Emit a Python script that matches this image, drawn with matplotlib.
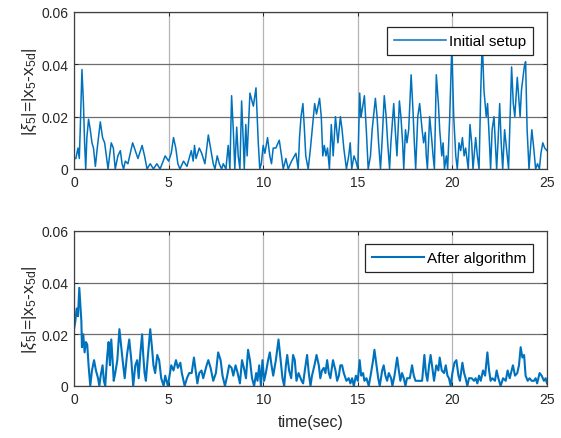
import matplotlib
matplotlib.use("Agg")
import matplotlib.pyplot as plt

# values (time in sec, error)
t_initial = [0, 0.1, 0.21, 0.28, 0.33, 0.42, 0.5, 0.56, 0.62, 0.68, 0.77, 0.86, 0.95, 1.03, 1.13,
             1.23, 1.39, 1.51, 1.62, 1.71, 1.8, 1.88, 1.97, 2.08, 2.18, 2.32, 2.45, 2.54, 2.62, 2.71,
             2.85, 3.1, 3.24, 3.38, 3.6, 3.73, 3.86, 4.03, 4.2, 4.38, 4.55, 4.82, 5.0, 5.14, 5.26,
             5.38, 5.49, 5.6, 5.79, 5.97, 6.2, 6.3, 6.37, 6.45, 6.62, 6.75, 6.92, 7.1, 7.22, 7.36,
             7.45, 7.57, 7.68, 7.8, 7.89, 8.03, 8.15, 8.24, 8.33, 8.42, 8.5, 8.6, 8.68, 8.77, 8.86,
             8.95, 9.0, 9.08, 9.15, 9.3, 9.48, 9.62, 9.74, 9.82, 9.9, 10.0, 10.09, 10.23, 10.35, 10.44,
             10.53, 10.67, 10.85, 10.97, 11.06, 11.2, 11.32, 11.5, 11.73, 11.85, 11.92, 12.0, 12.1,
             12.18, 12.25, 12.38, 12.5, 12.72, 12.82, 12.98, 13.07, 13.15, 13.23, 13.32, 13.4, 13.5,
             13.6, 13.7, 13.82, 13.95, 14.08, 14.17, 14.26, 14.4, 14.52, 14.6, 14.68, 14.8, 14.9,
             15.0, 15.1, 15.17, 15.22, 15.35, 15.45, 15.55, 15.67, 15.76, 15.93, 16.02, 16.1, 16.2,
             16.28, 16.4, 16.5, 16.58, 16.68, 16.75, 16.9, 16.98, 17.07, 17.2, 17.28, 17.37, 17.43,
             17.52, 17.6, 17.69, 17.82, 17.92, 17.99, 18.06, 18.17, 18.27, 18.4, 18.48, 18.57, 18.62,
             18.68, 18.8, 18.9, 18.98, 19.05, 19.15, 19.26, 19.33, 19.44, 19.51, 19.58, 19.68, 19.75,
             19.86, 19.97, 20.07, 20.18, 20.26, 20.35, 20.44, 20.53, 20.62, 20.7, 20.84, 20.93, 21.02,
             21.09, 21.23, 21.32, 21.41, 21.5, 21.58, 21.67, 21.79, 21.86, 21.96, 22.02, 22.1, 22.2,
             22.27, 22.34, 22.41, 22.5, 22.58, 22.66, 22.76, 22.9, 22.97, 23.05, 23.13, 23.22, 23.3,
             23.43, 23.5, 23.58, 23.65, 23.8, 23.87, 23.95, 24.05, 24.2, 24.3, 24.4, 24.5, 24.6,
             24.68, 24.78, 24.88, 25.0]
e_initial = [0.004, 0.004, 0.008, 0.004, 0.015, 0.038, 0.025, 0.010, 0.0, 0.012, 0.019, 0.015, 0.010,
             0.008, 0.001, 0.008, 0.018, 0.012, 0.010, 0.005, 0.0, 0.005, 0.010, 0.008, 0.0, 0.005,
             0.007, 0.002, 0.0, 0.003, 0.002, 0.010, 0.007, 0.004, 0.009, 0.005, 0.0, 0.002, 0.0,
             0.002, 0.0, 0.005, 0.003, 0.006, 0.012, 0.008, 0.002, 0.0, 0.003, 0.001, 0.007, 0.003,
             0.009, 0.004, 0.008, 0.006, 0.002, 0.013, 0.008, 0.002, 0.0, 0.005, 0.002, 0.0, 0.002,
             0.0, 0.009, 0.0, 0.028, 0.015, 0.0, 0.016, 0.005, 0.0, 0.026, 0.010, 0.0, 0.017, 0.005,
             0.029, 0.024, 0.031, 0.010, 0.0, 0.002, 0.009, 0.006, 0.012, 0.005, 0.002, 0.008, 0.008,
             0.011, 0.005, 0.0, 0.004, 0.0, 0.003, 0.006, 0.0, 0.012, 0.020, 0.025, 0.015, 0.005, 0.0,
             0.008, 0.025, 0.021, 0.027, 0.020, 0.005, 0.009, 0.005, 0.008, 0.0, 0.017, 0.005, 0.020,
             0.010, 0.020, 0.015, 0.008, 0.0, 0.005, 0.010, 0.0, 0.005, 0.003, 0.0, 0.029, 0.020,
             0.022, 0.028, 0.015, 0.0, 0.005, 0.015, 0.027, 0.020, 0.010, 0.0, 0.010, 0.028, 0.020,
             0.010, 0.0, 0.010, 0.025, 0.015, 0.005, 0.026, 0.020, 0.010, 0.0, 0.015, 0.010, 0.015,
             0.036, 0.022, 0.010, 0.0, 0.020, 0.025, 0.015, 0.010, 0.014, 0.005, 0.0, 0.020, 0.012,
             0.005, 0.0, 0.036, 0.025, 0.015, 0.005, 0.010, 0.0, 0.005, 0.0, 0.020, 0.047, 0.020,
             0.005, 0.0, 0.010, 0.007, 0.012, 0.005, 0.008, 0.0, 0.017, 0.010, 0.0, 0.012, 0.005, 0.0,
             0.030, 0.049, 0.030, 0.020, 0.025, 0.010, 0.0, 0.015, 0.020, 0.010, 0.0, 0.010, 0.025,
             0.010, 0.0, 0.015, 0.005, 0.0, 0.020, 0.039, 0.025, 0.020, 0.035, 0.028, 0.020, 0.030,
             0.039, 0.041, 0.015, 0.0, 0.015, 0.008, 0.0, 0.002, 0.0, 0.006, 0.010, 0.008, 0.007]

t_after = [0, 0.07, 0.14, 0.21, 0.28, 0.35, 0.39, 0.42, 0.49, 0.56, 0.63, 0.7, 0.77, 0.86, 0.95, 1.06,
           1.16, 1.27, 1.34, 1.41, 1.51, 1.58, 1.65, 1.76, 1.83, 1.9, 1.97, 2.04, 2.1, 2.18, 2.29, 2.4,
           2.5, 2.57, 2.68, 2.8, 2.92, 3.03, 3.13, 3.24, 3.34, 3.42, 3.5, 3.6, 3.66, 3.73, 3.8, 3.91,
           4.03, 4.12, 4.2, 4.29, 4.4, 4.5, 4.61, 4.74, 4.82, 4.96, 5.14, 5.26, 5.39, 5.49, 5.62, 5.7,
           5.85, 5.97, 6.09, 6.22, 6.34, 6.45, 6.52, 6.62, 6.74, 6.83, 7.01, 7.1, 7.22, 7.36, 7.5,
           7.62, 7.75, 7.85, 7.98, 8.1, 8.2, 8.33, 8.42, 8.54, 8.65, 8.77, 8.88, 8.98, 9.09, 9.2, 9.3,
           9.41, 9.52, 9.63, 9.7, 9.79, 9.88, 9.96, 10.05, 10.14, 10.26, 10.35, 10.44, 10.53, 10.67,
           10.81, 10.92, 11.02, 11.11, 11.2, 11.27, 11.37, 11.48, 11.58, 11.67, 11.76, 11.87, 12.03,
           12.11, 12.22, 12.32, 12.41, 12.5, 12.58, 12.71, 12.82, 12.94, 13.02, 13.11, 13.2, 13.29,
           13.38, 13.47, 13.55, 13.69, 13.82, 13.91, 14.0, 14.08, 14.17, 14.26, 14.4, 14.52, 14.61,
           14.7, 14.79, 14.9, 15.0, 15.1, 15.18, 15.28, 15.35, 15.46, 15.58, 15.7, 15.81, 15.88,
           15.99, 16.08, 16.16, 16.29, 16.37, 16.46, 16.55, 16.64, 16.76, 16.83, 16.94, 17.08, 17.17,
           17.25, 17.34, 17.43, 17.52, 17.6, 17.75, 17.87, 17.96, 18.05, 18.22, 18.4, 18.52, 18.6,
           18.68, 18.77, 18.85, 18.94, 19.03, 19.15, 19.26, 19.33, 19.44, 19.56, 19.65, 19.74, 19.82,
           19.91, 20.0, 20.11, 20.21, 20.32, 20.4, 20.53, 20.62, 20.7, 20.79, 20.88, 21.02, 21.14,
           21.23, 21.32, 21.41, 21.5, 21.62, 21.73, 21.85, 21.94, 22.02, 22.11, 22.25, 22.34, 22.43,
           22.55, 22.68, 22.82, 22.92, 23.03, 23.13, 23.2, 23.31, 23.43, 23.52, 23.61, 23.7, 23.79,
           23.87, 23.98, 24.08, 24.19, 24.31, 24.4, 24.48, 24.61, 24.72, 24.84, 24.93, 25.0]
e_after = [0.022, 0.025, 0.030, 0.027, 0.038, 0.030, 0.025, 0.015, 0.020, 0.013, 0.017, 0.016, 0.008,
           0.0, 0.006, 0.010, 0.006, 0.003, 0.0, 0.004, 0.008, 0.002, 0.0, 0.012, 0.017, 0.008, 0.018,
           0.010, 0.002, 0.005, 0.010, 0.022, 0.015, 0.010, 0.003, 0.012, 0.018, 0.010, 0.0, 0.008,
           0.010, 0.003, 0.012, 0.020, 0.012, 0.005, 0.002, 0.012, 0.022, 0.015, 0.008, 0.005, 0.012,
           0.010, 0.003, 0.0, 0.004, 0.0, 0.008, 0.006, 0.010, 0.007, 0.009, 0.005, 0.0, 0.003, 0.005,
           0.005, 0.011, 0.005, 0.001, 0.005, 0.006, 0.003, 0.008, 0.010, 0.007, 0.002, 0.005, 0.013,
           0.010, 0.004, 0.0, 0.004, 0.008, 0.007, 0.004, 0.008, 0.005, 0.001, 0.010, 0.007, 0.003,
           0.014, 0.010, 0.003, 0.0, 0.005, 0.002, 0.008, 0.0, 0.010, 0.002, 0.005, 0.010, 0.013,
           0.008, 0.004, 0.010, 0.018, 0.010, 0.003, 0.0, 0.008, 0.012, 0.006, 0.003, 0.012, 0.010,
           0.002, 0.005, 0.002, 0.001, 0.007, 0.012, 0.005, 0.0, 0.004, 0.008, 0.012, 0.008, 0.003,
           0.006, 0.007, 0.005, 0.010, 0.005, 0.003, 0.010, 0.006, 0.002, 0.004, 0.008, 0.008, 0.005,
           0.002, 0.003, 0.001, 0.003, 0.0, 0.004, 0.002, 0.010, 0.004, 0.005, 0.002, 0.003, 0.0,
           0.005, 0.010, 0.014, 0.008, 0.003, 0.0, 0.006, 0.008, 0.004, 0.002, 0.005, 0.003, 0.0,
           0.004, 0.011, 0.006, 0.002, 0.005, 0.003, 0.0, 0.003, 0.003, 0.008, 0.004, 0.002, 0.002,
           0.002, 0.012, 0.005, 0.002, 0.008, 0.012, 0.007, 0.002, 0.008, 0.006, 0.011, 0.006, 0.005,
           0.008, 0.004, 0.003, 0.0, 0.005, 0.009, 0.010, 0.004, 0.002, 0.009, 0.005, 0.003, 0.0,
           0.003, 0.003, 0.002, 0.003, 0.001, 0.004, 0.002, 0.006, 0.004, 0.013, 0.006, 0.002, 0.003,
           0.002, 0.006, 0.003, 0.0, 0.003, 0.002, 0.006, 0.003, 0.006, 0.008, 0.004, 0.005, 0.008,
           0.015, 0.011, 0.012, 0.004, 0.002, 0.003, 0.002, 0.002, 0.003, 0.001, 0.005, 0.004, 0.002,
           0.003, 0.001]

x_ticks = [0, 5, 10, 15, 20, 25]
y_ticks = [0, 0.02, 0.04, 0.06]
y_tick_labels = ["0", "0.02", "0.04", "0.06"]
ylabel = r"|$\xi_5$|=|x$_5$-x$_\mathrm{5d}$|"
line_color = "#0072BD"


def style_axes(ax):
    ax.set_xlim(0, 25)
    ax.set_ylim(0, 0.06)
    ax.set_xticks(x_ticks)
    ax.set_xticklabels([str(v) for v in x_ticks])
    ax.set_yticks(y_ticks)
    ax.set_yticklabels(y_tick_labels)
    ax.xaxis.grid(True, color="#b4b4b4", linewidth=0.9)
    ax.yaxis.grid(True, color="#6e6e6e", linewidth=0.9)
    ax.set_axisbelow(True)
    ax.tick_params(direction="in", top=True, right=True, length=3, width=0.7,
                   labelsize=10, colors="#262626", pad=4)
    for sp in ax.spines.values():
        sp.set_color("#404040")
        sp.set_linewidth(0.9)
    ax.set_ylabel(ylabel, fontsize=12.5, color="#262626", labelpad=2)


def main():
    plt.rcParams["font.family"] = ["Liberation Sans", "DejaVu Sans"]
    plt.rcParams["mathtext.fontset"] = "custom"
    plt.rcParams["mathtext.rm"] = "Liberation Sans"
    plt.rcParams["mathtext.it"] = "Liberation Sans:italic"

    fig = plt.figure(figsize=(5.61, 4.39), dpi=100)
    ax1 = fig.add_axes([0.1319, 0.6128, 0.8431, 0.3576])
    ax2 = fig.add_axes([0.1319, 0.1185, 0.8431, 0.3531])

    # Top: initial setup
    ax1.plot(t_initial, e_initial, color=line_color, linewidth=1.1, label="Initial setup")
    style_axes(ax1)
    leg1 = ax1.legend(loc="upper right", bbox_to_anchor=(0.970, 0.904), borderaxespad=0,
                      fancybox=False, framealpha=1, edgecolor="#262626", fontsize=11,
                      handlelength=3.4, handletextpad=0.2, borderpad=0.45)
    leg1.get_frame().set_linewidth(0.9)

    # Bottom: after algorithm
    ax2.plot(t_after, e_after, color=line_color, linewidth=1.5, label="After algorithm")
    style_axes(ax2)
    ax2.set_xlabel("time(sec)", fontsize=11.5, color="#262626", labelpad=6)
    leg2 = ax2.legend(loc="upper right", bbox_to_anchor=(0.971, 0.916), borderaxespad=0,
                      fancybox=False, framealpha=1, edgecolor="#262626", fontsize=11,
                      handlelength=3.4, handletextpad=0.2, borderpad=0.45)
    leg2.get_frame().set_linewidth(0.9)

    fig.savefig("out.png", dpi=100)
    plt.close(fig)


if __name__ == "__main__":
    main()
